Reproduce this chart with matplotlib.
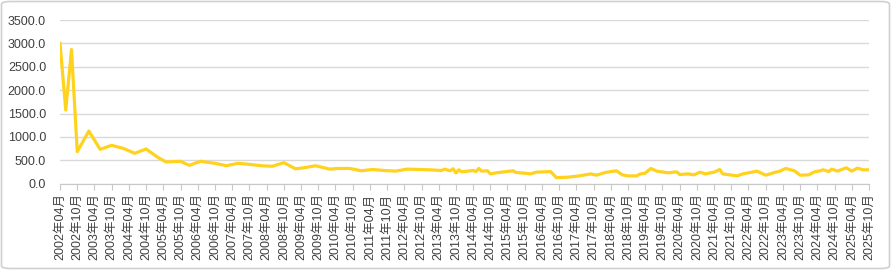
import pandas as pd
import matplotlib
matplotlib.use('Agg')
import matplotlib.pyplot as plt
import matplotlib.dates as mdates
from matplotlib.patches import FancyBboxPatch

plt.rcParams['font.family'] = ['Liberation Sans', 'Noto Sans CJK JP', 'DejaVu Sans']

# 値
dates = ['2002-04', '2002-06', '2002-08', '2002-10', '2003-02', '2003-06', '2003-10',
         '2004-02', '2004-06', '2004-10', '2005-02', '2005-05', '2005-10', '2006-01',
         '2006-05', '2006-10', '2007-02', '2007-06', '2007-10', '2008-02', '2008-06',
         '2008-10', '2009-02', '2009-05', '2009-09', '2010-02', '2010-05', '2010-09',
         '2011-01', '2011-05', '2011-09', '2012-01', '2012-05', '2012-09', '2013-01',
         '2013-05', '2013-06', '2013-08', '2013-09', '2013-10', '2013-11', '2013-12',
         '2014-04', '2014-05', '2014-06', '2014-07', '2014-09', '2014-10', '2014-12',
         '2015-03', '2015-06', '2015-07', '2015-10', '2015-12', '2016-02', '2016-07',
         '2016-09', '2017-01', '2017-05', '2017-07', '2017-09', '2017-11', '2018-02',
         '2018-04', '2018-06', '2018-08', '2018-10', '2019-01', '2019-02', '2019-04',
         '2019-06', '2019-08', '2019-12', '2020-03', '2020-04', '2020-07', '2020-09',
         '2020-11', '2021-01', '2021-04', '2021-06', '2021-07', '2021-12', '2022-02',
         '2022-07', '2022-10', '2023-01', '2023-03', '2023-05', '2023-08', '2023-10',
         '2024-01', '2024-03', '2024-05', '2024-06', '2024-08', '2024-09', '2024-11',
         '2025-02', '2025-04', '2025-06', '2025-08', '2025-10']
values = [3000, 1575, 2870, 684, 1127, 735, 820,
          756, 650, 742, 564, 464, 478, 393,
          478, 436, 385, 436, 414, 385, 372,
          450, 319, 340, 384, 312, 326, 326,
          276, 304, 282, 269, 312, 304, 297,
          282, 312, 276, 319, 232, 297, 254,
          282, 260, 326, 269, 276, 210, 232,
          254, 276, 239, 225, 210, 247, 260,
          130, 139, 167, 189, 210, 182, 239,
          260, 276, 189, 167, 167, 204, 225,
          326, 269, 232, 254, 196, 210, 189,
          247, 210, 247, 304, 210, 167, 210,
          269, 182, 239, 269, 326, 276, 182,
          189, 254, 276, 297, 260, 312, 269,
          340, 269, 333, 297, 297]

x = pd.to_datetime(dates, format='%Y-%m')
ticks = pd.date_range('2002-04-01', '2025-10-01', freq='6MS')
tick_labels = [d.strftime('%Y年%m月') for d in ticks]

W, H = 891, 270
fig = plt.figure(figsize=(W / 100, H / 100), dpi=100)
fig.patches.append(FancyBboxPatch((1.5 / W, 1.5 / H), (W - 3) / W, (H - 3) / H,
                                  boxstyle='round,pad=0,rounding_size=0.01',
                                  transform=fig.transFigure, fill=False,
                                  edgecolor='#d0d0d0', linewidth=1.2))

ax = fig.add_axes([60 / W, (H - 183.7) / H, (869 - 60) / W, (183.7 - 20) / H])
ax.plot(x, values, color='#FFD21E', linewidth=2.3, solid_joinstyle='round')

ax.set_ylim(0, 3500)
ax.set_yticks(range(0, 3501, 500))
ax.set_yticklabels([f'{v:.1f}' for v in range(0, 3501, 500)])
ax.set_xlim(ticks[0], ticks[-1])
ax.set_xticks(ticks)
ax.set_xticklabels(tick_labels, rotation=90)

ax.grid(axis='y', color='#d9d9d9', linewidth=1)
ax.set_axisbelow(True)
for s in ['top', 'right', 'left']:
    ax.spines[s].set_visible(False)
ax.spines['bottom'].set_color('#c8c8c8')
ax.tick_params(axis='y', length=0, pad=10, labelsize=9, labelcolor='#404040')
ax.tick_params(axis='x', length=4, color='#c8c8c8', pad=3, labelsize=9, labelcolor='#404040')

fig.savefig('out.png', dpi=100)
